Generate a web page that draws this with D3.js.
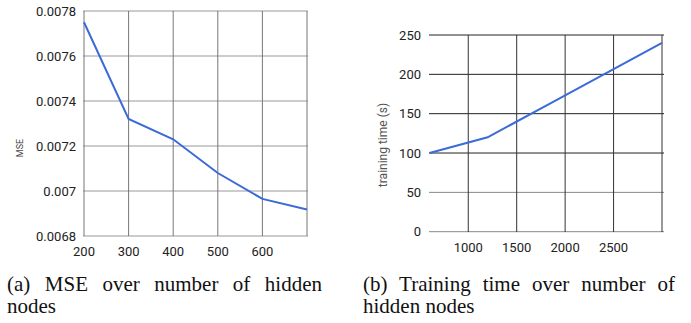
<!DOCTYPE html>
<html>
<head>
<meta charset="utf-8">
<script src="https://cdn.jsdelivr.net/npm/d3@7"></script>
<style>
  body { margin: 0; background: #fff; }
  #wrap { position: relative; width: 691px; height: 323px; overflow: hidden; }
  .caption {
    position: absolute; font-family: "Liberation Serif", "Times New Roman", serif;
    font-size: 21px; line-height: 22px; text-align: justify; color: #111;
  }
</style>
</head>
<body>
<div id="wrap"></div>
<script>
// chart (a): MSE vs hidden nodes
var mseNodes = [200, 300, 400, 500, 600, 700];
var mseValues = [0.00775, 0.00732, 0.00723, 0.00708, 0.006965, 0.006918];
var mseXTicks = [200, 300, 400, 500, 600];
var mseYTicks = [0.0068, 0.007, 0.0072, 0.0074, 0.0076, 0.0078];

// chart (b): training time vs hidden nodes
var timeNodes = [600, 1200, 1800, 2400, 3000];
var timeValues = [100, 120, 160, 200, 240];
var timeXTicks = [1000, 1500, 2000, 2500];
var timeYTicks = [0, 50, 100, 150, 200, 250];

var captionA = "(a) MSE over number of hidden nodes";
var captionB = "(b) Training time over number of hidden nodes";

var wrap = d3.select("#wrap");
var svg = wrap.append("svg").attr("width", 691).attr("height", 270);

var lineColor = "#3a6bd6";
var tickFont = "Roboto, sans-serif";

// ---- chart (a)
var xa = d3.scaleLinear().domain([200, 700]).range([84, 307]);
var ya = d3.scaleLinear().domain([0.0068, 0.0078]).range([236, 11]);
var ga = svg.append("g");

ga.selectAll(".hgrid").data(mseYTicks).enter().append("line")
  .attr("x1", 83).attr("x2", 308)
  .attr("y1", function (d) { return ya(d); }).attr("y2", function (d) { return ya(d); })
  .attr("stroke", "#999").attr("stroke-width", 1);
ga.selectAll(".vgrid").data(mseNodes).enter().append("line")
  .attr("x1", function (d) { return xa(d); }).attr("x2", function (d) { return xa(d); })
  .attr("y1", 11).attr("y2", 236)
  .attr("stroke", "#777").attr("stroke-width", 1);

ga.selectAll(".ylab").data(mseYTicks).enter().append("text")
  .attr("x", 76).attr("y", function (d) { return ya(d); })
  .attr("text-anchor", "end").attr("dominant-baseline", "central")
  .attr("font-family", tickFont).attr("font-size", 13).attr("fill", "#222")
  .text(function (d) { return String(+d.toFixed(4)); });
ga.selectAll(".xlab").data(mseXTicks).enter().append("text")
  .attr("x", function (d) { return xa(d); }).attr("y", 251)
  .attr("text-anchor", "middle").attr("dominant-baseline", "central")
  .attr("font-family", tickFont).attr("font-size", 13).attr("fill", "#222")
  .text(function (d) { return d; });
ga.append("text")
  .attr("transform", "translate(20,148) rotate(-90)")
  .attr("text-anchor", "middle").attr("dominant-baseline", "central")
  .attr("font-family", tickFont).attr("font-size", 9).attr("fill", "#444")
  .text("MSE");

ga.append("path")
  .datum(d3.zip(mseNodes, mseValues))
  .attr("fill", "none").attr("stroke", lineColor).attr("stroke-width", 2)
  .attr("d", d3.line().x(function (d) { return xa(d[0]); }).y(function (d) { return ya(d[1]); }));

// ---- chart (b)
var xb = d3.scaleLinear().domain([600, 3000]).range([429.5, 662]);
var yb = d3.scaleLinear().domain([0, 250]).range([231.7, 35]);
var gb = svg.append("g");

gb.selectAll(".hgrid").data(timeYTicks).enter().append("line")
  .attr("x1", 429).attr("x2", 664)
  .attr("y1", function (d) { return yb(d); }).attr("y2", function (d) { return yb(d); })
  .attr("stroke", function (d) { return d < 100 ? "#888" : "#222"; }).attr("stroke-width", 1);
gb.selectAll(".vgrid").data(timeXTicks.concat([3000])).enter().append("line")
  .attr("x1", function (d) { return xb(d); }).attr("x2", function (d) { return xb(d); })
  .attr("y1", 35).attr("y2", 232)
  .attr("stroke", "#333").attr("stroke-width", 1);

gb.selectAll(".ylab").data(timeYTicks).enter().append("text")
  .attr("x", 421).attr("y", function (d) { return yb(d); })
  .attr("text-anchor", "end").attr("dominant-baseline", "central")
  .attr("font-family", tickFont).attr("font-size", 13).attr("fill", "#222")
  .text(function (d) { return d; });
gb.selectAll(".xlab").data(timeXTicks).enter().append("text")
  .attr("x", function (d) { return xb(d); }).attr("y", 247.5)
  .attr("text-anchor", "middle").attr("dominant-baseline", "central")
  .attr("font-family", tickFont).attr("font-size", 13).attr("fill", "#222")
  .text(function (d) { return d; });
gb.append("text")
  .attr("transform", "translate(383,145) rotate(-90)")
  .attr("text-anchor", "middle").attr("dominant-baseline", "central")
  .attr("font-family", tickFont).attr("font-size", 12).attr("fill", "#555")
  .text("training time (s)");

gb.append("path")
  .datum(d3.zip(timeNodes, timeValues))
  .attr("fill", "none").attr("stroke", lineColor).attr("stroke-width", 2)
  .attr("d", d3.line().x(function (d) { return xb(d[0]); }).y(function (d) { return yb(d[1]); }));

// ---- captions
wrap.append("div").attr("class", "caption")
  .style("left", "7px").style("top", "273px").style("width", "315px")
  .text(captionA);
wrap.append("div").attr("class", "caption")
  .style("left", "363px").style("top", "273px").style("width", "312px")
  .text(captionB);
</script>
</body>
</html>
